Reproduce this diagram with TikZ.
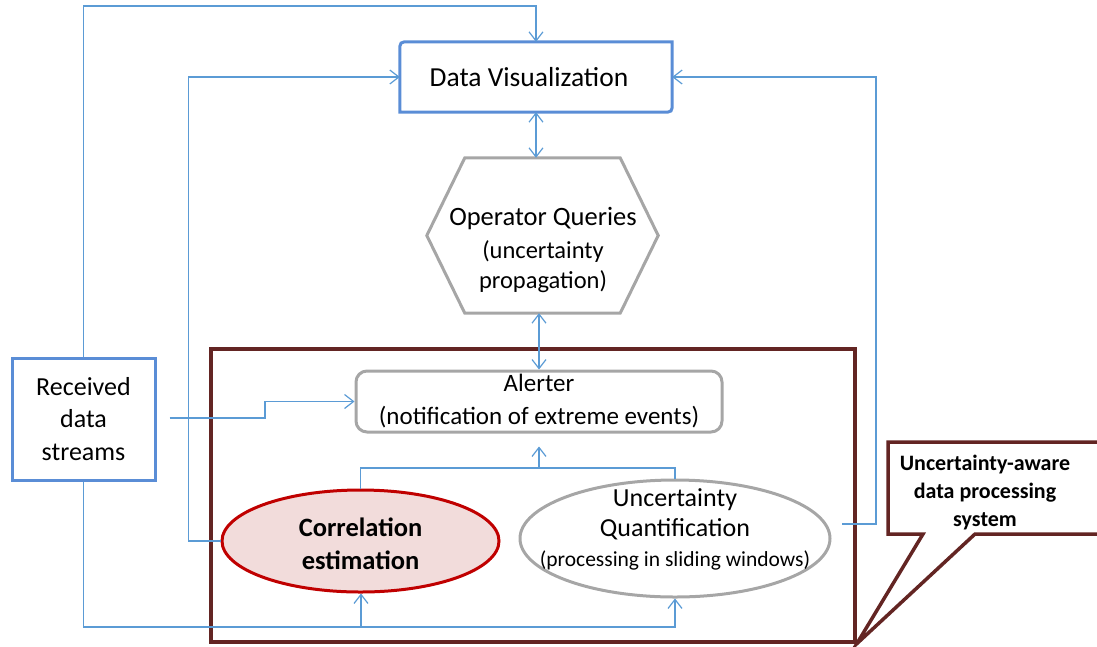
\documentclass[tikz,border=0pt]{standalone}
\usepackage{fontspec}
\setmainfont{Carlito}
\usetikzlibrary{arrows.meta,shapes.geometric,calc}
\definecolor{connblue}{HTML}{5B9BD5}
\definecolor{boxblue}{HTML}{5A8DD6}
\definecolor{boxgray}{HTML}{A6A6A6}
\definecolor{maroonc}{HTML}{632523}
\definecolor{redc}{HTML}{C00000}
\definecolor{pinkc}{HTML}{F2DCDB}
\begin{document}
\begin{tikzpicture}[x=1pt,y=-1pt,
  conn/.style={draw=connblue, line width=1.2pt},
  tipend/.style={-{Straight Barb[length=9pt,width=14pt]}},
  tipboth/.style={{Straight Barb[length=9pt,width=14pt]}-{Straight Barb[length=9pt,width=14pt]}},
  bluebox/.style={draw=boxblue, line width=3pt},
  graybox/.style={draw=boxgray, line width=3pt},
  txt/.style={align=center, text=black, inner sep=0pt},
]
\useasboundingbox (0,0) rectangle (1097,646);

% system frame
\node[draw=maroonc, line width=3.5pt, minimum width=644pt, minimum height=293pt] (sys) at (533,495.5) {};

% Data Visualization
\node[minimum width=272pt, minimum height=70pt, inner sep=0pt] (dv) at (536,77) {};
\draw[bluebox] (dv.south west) -- ([yshift=-10pt]dv.north west) .. controls (dv.north west) .. ([xshift=10pt]dv.north west) -- (dv.north east) -- ([yshift=10pt]dv.south east) .. controls (dv.south east) .. ([xshift=-10pt]dv.south east) -- cycle;
\node[txt, font=\fontsize{27.5}{32}\selectfont] (dvtext) at (529,77) {Data Visualization};

% Operator Queries hexagon
\node[minimum width=231pt, minimum height=155pt, inner sep=0pt] (oq) at (542.5,235.5) {};
\draw[graybox, line join=miter] ([xshift=38pt]oq.north west) -- ([xshift=-38pt]oq.north east) -- (oq.east) -- ([xshift=-38pt]oq.south east) -- ([xshift=38pt]oq.south west) -- (oq.west) -- cycle;
\node[txt, font=\fontsize{26.5}{30}\selectfont] (oqtext) at (543,250) {Operator Queries\\[3pt]\fontsize{24.5}{25}\selectfont (uncertainty\\\fontsize{24.5}{25}\selectfont propagation)};

% Alerter
\node[graybox, rounded corners=11pt, minimum width=366pt, minimum height=61pt, txt, font=\fontsize{25}{33}\selectfont] (al) at (539,401.5) {Alerter\\(notification of extreme events)};

% Received data streams
\node[bluebox, minimum width=143pt, minimum height=122pt, txt, font=\fontsize{26}{32.5}\selectfont] (rds) at (83.5,419) {Received\\data\\streams};

% Correlation estimation
\node[ellipse, draw=redc, fill=pinkc, line width=3pt, minimum width=277pt, minimum height=102pt, inner sep=0pt] (ce) at (360.5,541) {};
\node[txt, font=\bfseries\fontsize{26.5}{33}\selectfont] (cetext) at (360.5,544) {Correlation\\estimation};

% Uncertainty Quantification
\node[ellipse, graybox, minimum width=310pt, minimum height=117pt, inner sep=0pt] (uq) at (675,538.5) {};
\node[txt, font=\fontsize{26}{30}\selectfont] (uqtext) at (675,529) {Uncertainty\\Quantification\\\fontsize{21.5}{30}\selectfont (processing in sliding windows)};

% callout
\draw[draw=maroonc, line width=3.5pt, fill=white, line join=miter] (888,442) -- (1115,442) -- (1115,534) -- (975,534) -- (sys.south east) -- (923,534) -- (888,534) -- cycle;
\node[txt, font=\bfseries\fontsize{22}{28}\selectfont] (callout) at (985,493) {Uncertainty-aware\\data processing\\system};

% connectors
\coordinate (topy) at (0,6);
\draw[conn, tipend] (rds.north) |- (dv.north |- topy) -- (dv.north);
\draw[conn, tipend] (ce.west) -- ++(-32,0) |- (dv.west);
\coordinate (uqout) at (842,524);
\draw[conn, tipend] (uqout) -- (876,524) |- (dv.east);
\draw[conn, tipboth] (dv.south) -- (dv.south |- oq.north);
\draw[conn, tipboth] (al.north |- oq.south) -- (al.north);
\coordinate (rdsout) at ($(rds.east)+(13,-1)$);
\draw[conn, tipend] (rdsout) -- (265,418) |- (al.west);
\coordinate (aljoin) at (539,468);
\draw[conn] (ce.north) |- (aljoin);
\draw[conn] (uq.north) |- (aljoin);
\draw[conn, tipend] (aljoin) -- ($(al.south)+(0,13)$);
\coordinate (botjoin) at (361,627);
\draw[conn] (rds.south) |- (botjoin);
\draw[conn, tipend] (botjoin) -- (botjoin |- ce.south);
\draw[conn, tipend] (botjoin) -| (uq.south);
\end{tikzpicture}
\end{document}
